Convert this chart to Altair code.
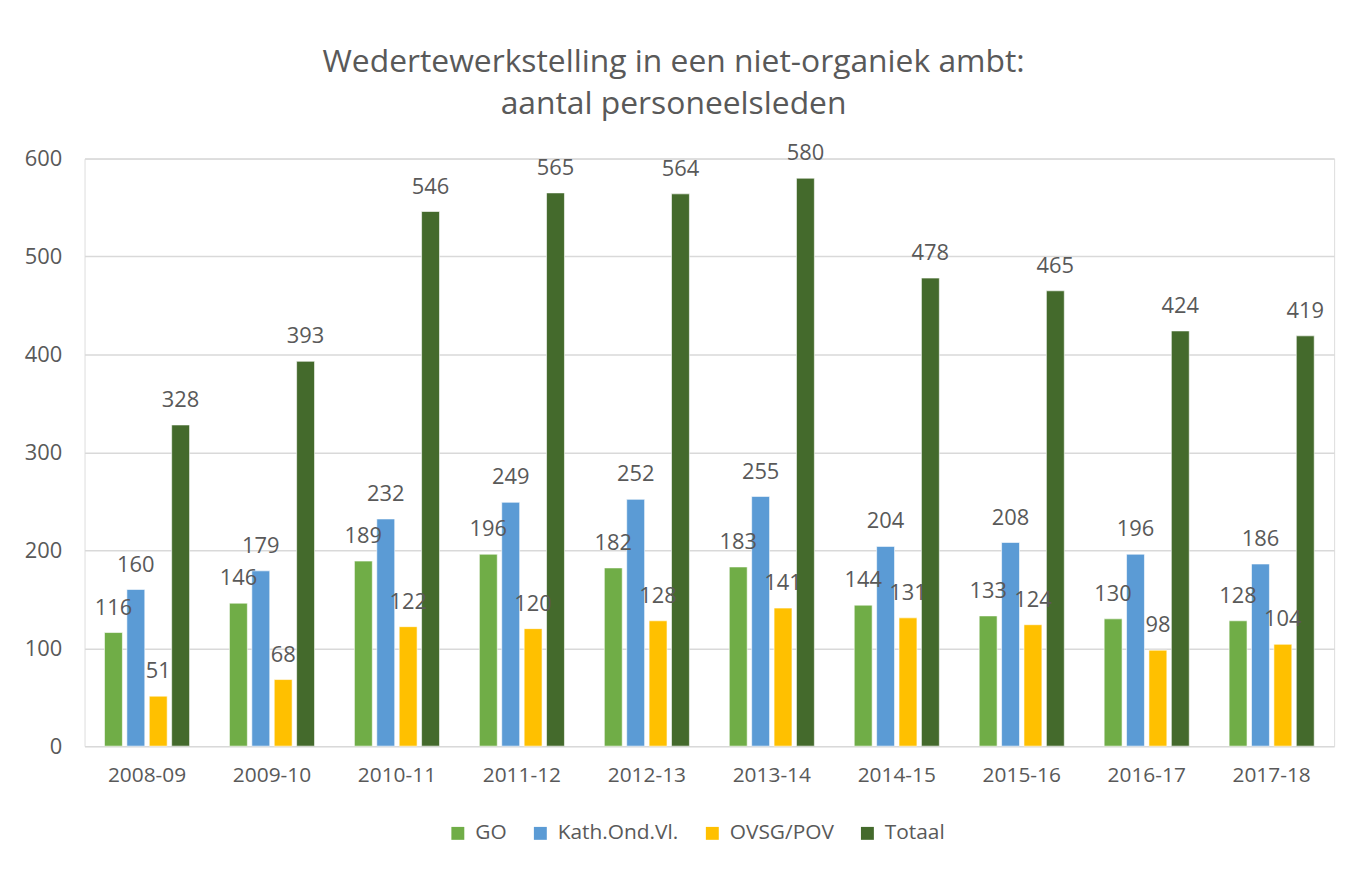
import altair as alt
import pandas as pd

years = ["2008-09", "2009-10", "2010-11", "2011-12", "2012-13",
         "2013-14", "2014-15", "2015-16", "2016-17", "2017-18"]
series = ["GO", "Kath.Ond.Vl.", "OVSG/POV", "Totaal"]
go = [116, 146, 189, 196, 182, 183, 144, 133, 130, 128]
kath = [160, 179, 232, 249, 252, 255, 204, 208, 196, 186]
ovsg = [51, 68, 122, 120, 128, 141, 131, 124, 98, 104]
totaal = [328, 393, 546, 565, 564, 580, 478, 465, 424, 419]
colors = ["#70AD47", "#5B9BD5", "#FFC000", "#446A2C"]

rows = []
for name, vals in zip(series, [go, kath, ovsg, totaal]):
    for y, v in zip(years, vals):
        rows.append({"jaar": y, "reeks": name, "waarde": v})
df = pd.DataFrame(rows)

FONT = "Open Sans"
GREY = "#595959"

x = alt.X("jaar:N", sort=years, title=None,
          scale=alt.Scale(paddingInner=0, paddingOuter=0),
          axis=alt.Axis(labelAngle=0, labelFontSize=21, labelColor=GREY,
                        domain=False, ticks=False, labelPadding=19, labelFont=FONT))
xoff = alt.XOffset("reeks:N", sort=series,
                   scale=alt.Scale(domain=series, paddingInner=0.2, paddingOuter=0.89))
y = alt.Y("waarde:Q", title=None,
          scale=alt.Scale(domain=[0, 600], nice=False),
          axis=alt.Axis(values=[0, 100, 200, 300, 400, 500, 600], grid=True,
                        gridColor="#D9D9D9", gridWidth=1.5, domain=False, ticks=False,
                        labelPadding=23, labelFontSize=22, labelColor=GREY, labelFont=FONT))
color = alt.Color("reeks:N", sort=series,
                  scale=alt.Scale(domain=series, range=colors),
                  legend=alt.Legend(title=None, orient="none", legendX=365, legendY=668,
                                    direction="horizontal", symbolType="square",
                                    symbolSize=169, symbolStrokeWidth=0,
                                    labelFontSize=21, labelColor=GREY, labelFont=FONT,
                                    columnPadding=23, labelOffset=7))

bars = alt.Chart(df).mark_bar(stroke="white", strokeWidth=0.6).encode(
    x=x, xOffset=xoff, y=y, color=color)

labels = alt.Chart(df).mark_text(baseline="alphabetic", dy=-18, fontSize=22,
                                 color=GREY, font=FONT).encode(
    x=x, xOffset=xoff, y=y, text=alt.Text("waarde:Q"))

chart = alt.layer(bars, labels).properties(
    width=1257, height=591,
    title=alt.TitleParams(
        text=["Wedertewerkstelling in een niet-organiek ambt:", "aantal personeelsleden"],
        fontSize=32, font=FONT, fontWeight="normal", color=GREY,
        anchor="middle", dx=-36, offset=22, lineHeight=42),
    autosize=alt.AutoSizeParams(type="none"),
    padding={"left": 77, "top": 149, "right": 24, "bottom": 106},
).configure_view(stroke=None).configure(font=FONT)

chart.save("out.html", embed_options={"renderer": "svg", "actions": False})
